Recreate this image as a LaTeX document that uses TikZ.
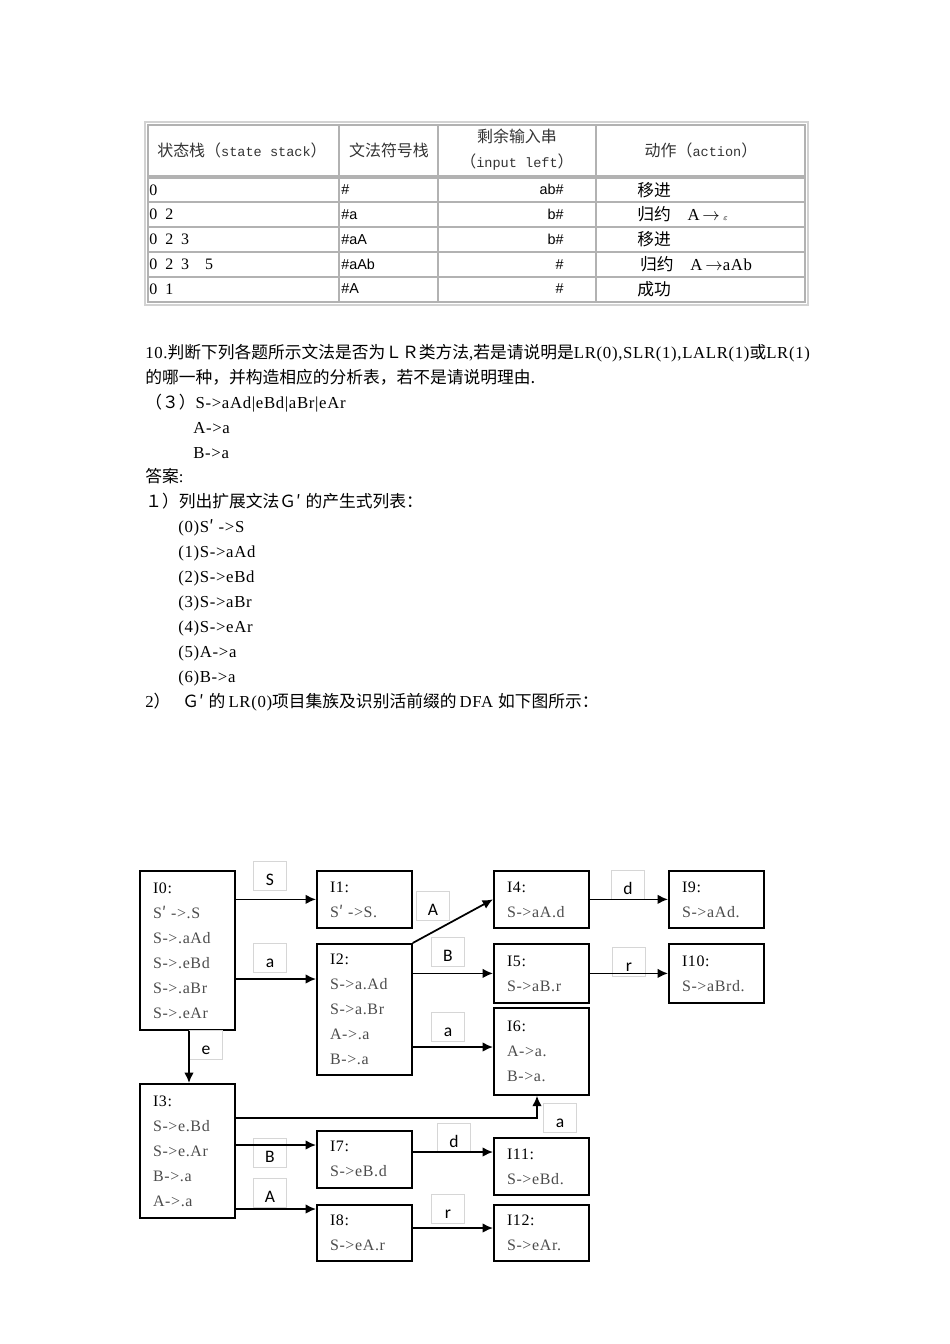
\documentclass[tikz,border=0pt]{standalone}
\usepackage{fontspec}
\setmainfont{Liberation Serif}[LetterSpace=4]
\newfontfamily\cjk{Noto Sans CJK SC}
\newfontfamily\lblfont{Carlito}
\newfontfamily\tsans{Liberation Sans}
\newfontfamily\tmono{Liberation Mono}
\usetikzlibrary{arrows.meta}
\definecolor{itemgray}{gray}{0.3}
\definecolor{gridgray}{gray}{0.7}
\definecolor{lblgray}{gray}{0.84}
\newcommand\prm{{\cjk ′}\hspace{3pt}}
\tikzset{
  state/.style={draw, line width=1.1pt, anchor=north west, minimum width=59.5pt,
    text width=43pt, inner xsep=8pt, align=left,
    font=\fontsize{10pt}{15.67pt}\selectfont},
  lbl/.style={draw=lblgray, fill=white, line width=0.5pt, minimum width=20.5pt,
    minimum height=18.5pt, inner sep=0pt, text height=12pt, text depth=0pt,
    font=\lblfont\fontsize{11pt}{13pt}\selectfont},
  arr/.style={line width=1.1pt, -{Latex[length=6.5pt,width=6pt]}},
  txt/.style={anchor=base west, inner sep=0pt, font=\fontsize{10.5pt}{12pt}\selectfont},
  cell/.style={inner sep=0pt, font=\fontsize{10pt}{12pt}\selectfont},
}
\begin{document}
\begin{tikzpicture}[x=0.6266pt, y=-0.6266pt]
\useasboundingbox (0,0) rectangle (950,1344);

% parse table
\draw[gray!35, line width=0.8pt] (145,122) rectangle (808,305);
\draw[gridgray, line width=1.4pt] (148,125) rectangle (805,302);
\foreach \x in {339,438,596}
  \draw[gridgray, line width=1.6pt] (\x,125) -- (\x,302);
\draw[gridgray, line width=2.2pt] (148,177) -- (805,177);
\foreach \y in {202,227,252,277}
  \draw[gridgray, line width=1.6pt] (148,\y) -- (805,\y);

\node[cell, text=black!80] (h1) at (242,150)
  {{\cjk 状态栈（}{\tmono\fontsize{8.5pt}{10pt}\selectfont state stack}{\cjk ）}};
\node[cell, text=black!80] (h2) at (389,150) {\cjk 文法符号栈};
\node[cell, text=black!80, align=center, font=\fontsize{10pt}{15.67pt}\selectfont] (h3) at (517,150)
  {{\cjk 剩余输入串}\\{\cjk （}{\tmono\fontsize{8.5pt}{10pt}\selectfont input left}{\cjk ）}};
\node[cell, text=black!80] (h4) at (701,150)
  {{\cjk 动作（}{\tmono\fontsize{8.5pt}{10pt}\selectfont action}{\cjk ）}};

\foreach \s/\g/\i/\a [count=\r] in {
  0/\#/ab\#/移进,
  0\enspace 2/\#a/b\#/归约\quad{\rmfamily A\,$\rightarrow$\,{\tiny$\varepsilon$}},
  0\enspace 2\enspace 3/\#aA/b\#/移进,
  0\enspace 2\enspace 3\enspace\enspace 5/\#aAb/\#/\,归约\quad{\rmfamily A\,$\rightarrow$aAb},
  0\enspace 1/\#A/\#/成功}
{
  \pgfmathsetmacro\yy{165+24.8*\r}
  \node[cell, anchor=west] (s\r) at (149,\yy) {\s};
  \node[cell, anchor=west, font=\tsans\fontsize{9pt}{11pt}\selectfont] (g\r) at (341,\yy) {\g};
  \node[cell, anchor=east, font=\tsans\fontsize{9pt}{11pt}\selectfont] (i\r) at (564,\yy) {\i};
  \node[cell, anchor=west, font=\cjk\fontsize{10.5pt}{12pt}\selectfont] (a\r) at (637,\yy) {\a};
}

% question and answer text
\node[txt] (q1) at (145,358)
  {10.{\cjk 判断下列各题所示文法是否为ＬＲ类方法},{\cjk 若是请说明是}LR(0),SLR(1),LALR(1){\cjk 或}LR(1)};
\node[txt] (q2) at (145,383) {\cjk 的哪一种，并构造相应的分析表，若不是请说明理由.};
\node[txt] (q3) at (145,408) {{\cjk （３）}S->aAd|eBd|aBr|eAr};
\node[txt] (q4) at (193,433) {A->a};
\node[txt] (q5) at (193,458) {B->a};
\node[txt] (ans) at (145,482) {{\cjk 答案}:};
\node[txt] (st1) at (145,507) {{\cjk １）列出扩展文法Ｇ}\prm{\cjk 的产生式列表：}};
\foreach \p [count=\i from 0] in {S\prm->S, S->aAd, S->eBd, S->aBr, S->eAr, A->a, B->a}
  \node[txt] (p\i) at (178,{532+25*\i}) {(\i)\p};
\node[txt] (st2) at (145,707)
  {2{\cjk ）}\hspace{7.5pt}{\cjk Ｇ}\prm{\cjk 的}\hspace{2pt}LR(0){\cjk 项目集族及识别活前缀的}\hspace{2pt}DFA\ {\cjk 如下图所示：}};

% LR(0) item sets
\node[state, minimum height=99.6pt] (I0) at (139,870)
  {I0:\\\color{itemgray}S\prm->.S\\S->.aAd\\S->.eBd\\S->.aBr\\S->.eAr};
\node[state, minimum height=35.7pt] (I1) at (316,870)
  {I1:\\\color{itemgray}S\prm->S.};
\node[state, minimum height=82.1pt] (I2) at (316,943)
  {I2:\\\color{itemgray}S->a.Ad\\S->a.Br\\A->.a\\B->.a};
\node[state, minimum height=84pt] (I3) at (139,1083)
  {I3:\\\color{itemgray}S->e.Bd\\S->e.Ar\\B->.a\\A->.a};
\node[state, minimum height=35.7pt] (I4) at (493,870)
  {I4:\\\color{itemgray}S->aA.d};
\node[state, minimum height=37pt] (I5) at (493,943)
  {I5:\\\color{itemgray}S->aB.r};
\node[state, minimum height=54.5pt] (I6) at (493,1007)
  {I6:\\\color{itemgray}A->a.\\B->a.};
\node[state, minimum height=35.7pt] (I7) at (316,1130)
  {I7:\\\color{itemgray}S->eB.d};
\node[state, minimum height=35.1pt] (I8) at (316,1204)
  {I8:\\\color{itemgray}S->eA.r};
\node[state, minimum height=35.7pt] (I9) at (668,870)
  {I9:\\\color{itemgray}S->aAd.};
\node[state, minimum height=37pt] (I10) at (668,943)
  {I10:\\\color{itemgray}S->aBrd.};
\node[state, minimum height=35.7pt] (I11) at (493,1137)
  {I11:\\\color{itemgray}S->eBd.};
\node[state, minimum height=35.1pt] (I12) at (493,1204)
  {I12:\\\color{itemgray}S->eAr.};

% transition labels
\node[lbl] (lS) at (270,876) {S};
\node[lbl] (la1) at (270,958) {a};
\node[lbl] (lA1) at (433,906) {A};
\node[lbl] (lB1) at (448,952) {B};
\node[lbl] (la2) at (448,1027) {a};
\node[lbl] (ld1) at (628,885) {d};
\node[lbl] (lr1) at (629,962) {r};
\node[lbl] (le) at (206,1045) {e};
\node[lbl] (la3) at (560,1118) {a};
\node[lbl] (lB2) at (270,1153) {B};
\node[lbl] (lA2) at (270,1193) {A};
\node[lbl] (ld2) at (454,1138) {d};
\node[lbl] (lr2) at (448,1209) {r};

% transitions
\draw[arr] (I0.east |- I1.west) -- (I1.west);
\draw[arr] (I0.east |- 0,979) -- (I2.west |- 0,979);
\draw[arr] (I2.north east) -- (I4.west);
\draw[arr] (I2.east |- I5.west) -- (I5.west);
\draw[arr] (I2.east |- 0,1047) -- (I6.west |- 0,1047);
\draw[arr] (I4.east) -- (I9.west);
\draw[arr] (I5.east) -- (I10.west);
\draw[arr] (I0.south -| 189,0) -- (I3.north -| 189,0);
\draw[arr] (I3.east |- 0,1118) -| (I6.south -| 537,0);
\draw[arr] (I3.east |- 0,1145) -- (I7.west |- 0,1145);
\draw[arr] (I3.east |- 0,1209) -- (I8.west |- 0,1209);
\draw[arr] (I7.east |- 0,1152) -- (I11.west |- 0,1152);
\draw[arr] (I8.east |- 0,1228) -- (I12.west |- 0,1228);
\end{tikzpicture}
\end{document}
